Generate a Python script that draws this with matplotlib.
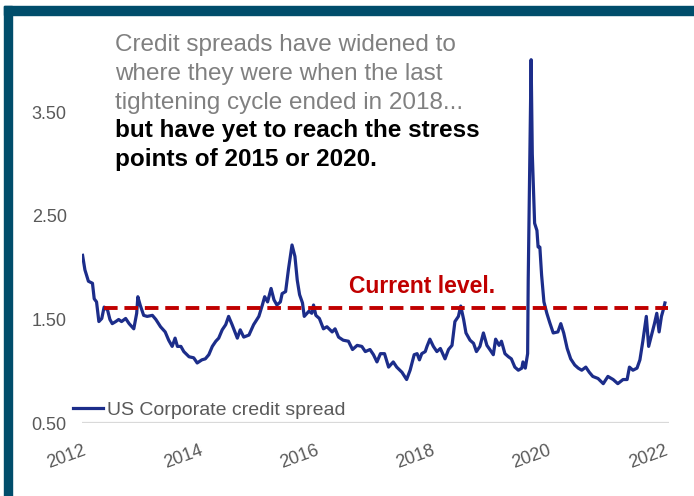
import matplotlib.pyplot as plt
import matplotlib.transforms as mtransforms
from matplotlib.patches import Rectangle

plt.rcParams['font.family'] = ['Liberation Sans', 'DejaVu Sans']

# Data (decimal years, spread in %)
years = [2012.51, 2012.55, 2012.61, 2012.68, 2012.71, 2012.75, 2012.79, 2012.84, 2012.88, 2012.94,
         2012.98, 2013.02, 2013.08, 2013.13, 2013.18, 2013.25, 2013.31, 2013.39, 2013.44, 2013.46,
         2013.50, 2013.56, 2013.62, 2013.71, 2013.77, 2013.85, 2013.93, 2013.99, 2014.05, 2014.10,
         2014.14, 2014.20, 2014.25, 2014.34, 2014.42, 2014.48, 2014.56, 2014.62, 2014.68, 2014.74,
         2014.80, 2014.85, 2014.91, 2014.97, 2015.02, 2015.08, 2015.17, 2015.22, 2015.28, 2015.37,
         2015.45, 2015.54, 2015.60, 2015.64, 2015.69, 2015.75, 2015.80, 2015.85, 2015.91, 2015.94,
         2016.00, 2016.05, 2016.11, 2016.16, 2016.20, 2016.24, 2016.29, 2016.32, 2016.40, 2016.45,
         2016.48, 2016.52, 2016.58, 2016.65, 2016.71, 2016.80, 2016.85, 2016.91, 2016.99, 2017.08,
         2017.15, 2017.23, 2017.31, 2017.37, 2017.45, 2017.51, 2017.57, 2017.63, 2017.70, 2017.77,
         2017.85, 2017.91, 2018.00, 2018.08, 2018.14, 2018.21, 2018.26, 2018.30, 2018.34, 2018.40,
         2018.43, 2018.48, 2018.54, 2018.60, 2018.66, 2018.74, 2018.80, 2018.86, 2018.91, 2018.97,
         2019.01, 2019.06, 2019.10, 2019.17, 2019.23, 2019.28, 2019.34, 2019.40, 2019.46, 2019.51,
         2019.57, 2019.61, 2019.67, 2019.71, 2019.77, 2019.83, 2019.88, 2019.94, 2020.00, 2020.06,
         2020.08, 2020.12, 2020.16, 2020.17, 2020.22, 2020.24, 2020.28, 2020.32, 2020.34, 2020.37,
         2020.40, 2020.44, 2020.49, 2020.54, 2020.60, 2020.68, 2020.73, 2020.78, 2020.84, 2020.90,
         2020.97, 2021.03, 2021.09, 2021.16, 2021.22, 2021.28, 2021.37, 2021.46, 2021.54, 2021.63,
         2021.71, 2021.80, 2021.87, 2021.91, 2021.97, 2022.04, 2022.09, 2022.14, 2022.20, 2022.24,
         2022.29, 2022.34, 2022.38, 2022.42, 2022.46, 2022.49, 2022.52]
spread = [2.12, 1.98, 1.87, 1.85, 1.70, 1.67, 1.48, 1.51, 1.62, 1.59,
          1.50, 1.46, 1.48, 1.50, 1.48, 1.51, 1.46, 1.41, 1.56, 1.72,
          1.64, 1.54, 1.53, 1.54, 1.50, 1.43, 1.38, 1.30, 1.24, 1.32,
          1.24, 1.24, 1.19, 1.14, 1.13, 1.08, 1.11, 1.12, 1.16, 1.24,
          1.29, 1.32, 1.40, 1.45, 1.53, 1.45, 1.32, 1.40, 1.33, 1.35,
          1.45, 1.53, 1.64, 1.72, 1.67, 1.80, 1.69, 1.64, 1.67, 1.75,
          1.77, 1.99, 2.22, 2.11, 1.88, 1.74, 1.66, 1.53, 1.58, 1.56,
          1.64, 1.54, 1.51, 1.41, 1.43, 1.38, 1.41, 1.33, 1.30, 1.29,
          1.21, 1.25, 1.24, 1.19, 1.21, 1.16, 1.09, 1.17, 1.17, 1.04,
          1.09, 1.04, 0.99, 0.92, 1.01, 1.16, 1.17, 1.11, 1.17, 1.19,
          1.24, 1.31, 1.24, 1.19, 1.22, 1.12, 1.21, 1.25, 1.48, 1.53,
          1.63, 1.50, 1.37, 1.30, 1.27, 1.19, 1.24, 1.37, 1.25, 1.21,
          1.16, 1.31, 1.25, 1.29, 1.17, 1.14, 1.12, 1.04, 1.01, 1.03,
          1.09, 1.03, 1.17, 1.88, 4.01, 3.10, 2.43, 2.36, 2.20, 2.20,
          1.93, 1.67, 1.56, 1.47, 1.37, 1.38, 1.46, 1.37, 1.22, 1.12,
          1.06, 1.03, 1.01, 1.04, 0.99, 0.95, 0.93, 0.88, 0.95, 0.92,
          0.88, 0.92, 0.92, 1.04, 1.01, 1.03, 1.11, 1.29, 1.53, 1.24,
          1.35, 1.46, 1.56, 1.38, 1.53, 1.59, 1.66]

current_level = 1.61
tick_years = [2012, 2014, 2016, 2018, 2020, 2022]
yticks = [0.5, 1.5, 2.5, 3.5]

W, H = 694, 496
fig = plt.figure(figsize=(W / 100, H / 100), dpi=100)
ax = fig.add_axes([82 / W, 73 / H, 587 / W, 414 / H])

navy = '#1c2d8a'
red = '#c00000'
grey = '#595959'

ax.plot(years, spread, color=navy, lw=2.3, label='US Corporate credit spread',
        solid_joinstyle='round')
ax.hlines(current_level, 2012.88, 2022.57, color=red, lw=2.8, linestyles=(0, (3.5, 1.75)))
ax.axhline(0.5, color='#d9d9d9', lw=1.6, zorder=0)

ax.set_xlim(2012.5, 2022.59)
ax.set_ylim(0.5, 4.5)
for s in ax.spines.values():
    s.set_visible(False)

# Excel-style category labels every 2 years from the first data point
ax.set_xticks([years[0] + 2 * i for i in range(len(tick_years))])
ax.set_xticklabels([str(y) for y in tick_years], rotation=20, ha='right',
                   rotation_mode='anchor', fontsize=13, color=grey)
shift = mtransforms.ScaledTranslation(-4 / 100, 0, fig.dpi_scale_trans)
for lab in ax.get_xticklabels():
    lab.set_transform(lab.get_transform() + shift)
ax.set_yticks(yticks)
ax.set_yticklabels(['%.2f' % v for v in yticks], fontsize=13, color=grey)
ax.tick_params(axis='both', length=0)
ax.tick_params(axis='y', pad=11)
ax.tick_params(axis='x', pad=14)

ax.text(2017.09, 1.82, 'Current level.', color=red, fontsize=16.5,
        fontweight='bold', ha='left', va='center')

leg = ax.legend(loc='center left', bbox_to_anchor=(73 / W, 1 - 410 / H),
                bbox_transform=fig.transFigure, frameon=False, fontsize=14,
                handlelength=1.55, handletextpad=0.2, borderpad=0, borderaxespad=0)
for t in leg.get_texts():
    t.set_color(grey)

# annotation text block
gray_lines = ['Credit spreads have widened to', 'where they were when the last',
              'tightening cycle ended in 2018...']
bold_lines = ['but have yet to reach the stress', 'points of 2015 or 2020.']
ys = [45, 74, 103, 131, 160]
for txt, y in zip(gray_lines + bold_lines, ys):
    bold = txt in bold_lines
    fig.text(115 / W, 1 - y / H, txt, fontsize=17.5, va='center', ha='left',
             color='black' if bold else '#808080',
             fontweight='bold' if bold else 'normal')

# dark frame on top and left
frame = '#004d6b'
fig.patches.append(Rectangle((3.5 / W, 0), 8.5 / W, 1 - 6 / H, transform=fig.transFigure,
                             color=frame, zorder=10))
fig.patches.append(Rectangle((3.5 / W, 1 - 15 / H), 1, 9 / H, transform=fig.transFigure,
                             color=frame, zorder=10))

fig.savefig('out.png', dpi=100)
